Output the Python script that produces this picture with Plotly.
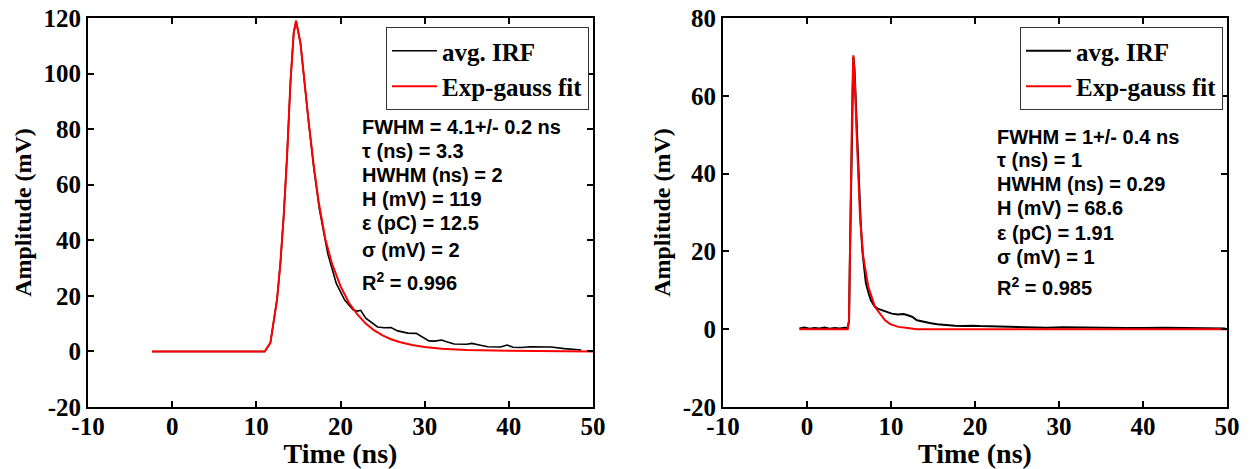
import plotly.graph_objects as go

# ---------------- left panel: 4.1 ns IRF ----------------
left_irf_t = [-2.4, 11.0, 11.67, 12.06, 12.46, 12.86, 13.25, 13.65, 14.05, 14.44, 14.72,
              15.24, 15.63, 16.23, 16.83, 17.5, 18.5, 19.5, 20.5, 21.5, 22.0, 22.4, 23.0,
              23.6, 24.4, 25.2, 26.0, 26.8, 28.0, 29.0, 29.6, 30.5, 31.2, 32.0, 32.6,
              33.5, 35.0, 35.6, 36.5, 37.5, 39.0, 39.8, 40.5, 41.5, 42.5, 45.0, 46.6, 48.6]
left_irf_v = [0.0, 0.0, 3.1, 10.3, 18.7, 31.9, 48.7, 70.3, 96.6, 114.6, 119.0,
              111.0, 99.0, 82.0, 66.0, 51.0, 35.0, 24.5, 18.5, 15.0, 14.5, 14.8, 12.0,
              10.5, 8.8, 8.5, 8.6, 7.4, 6.6, 6.5, 5.5, 3.8, 3.7, 4.1, 3.5,
              2.7, 2.6, 2.9, 2.3, 1.7, 1.6, 2.3, 1.5, 1.4, 1.7, 1.6, 1.0, 0.5]

left_fit_t = [-2.4, 11.0, 11.67, 12.06, 12.46, 12.86, 13.25, 13.65, 14.05, 14.44, 14.72,
              15.24, 15.63, 16.23, 16.83, 17.42, 18.21, 19.0, 20.0, 21.0, 22.0, 23.0,
              24.0, 25.0, 26.0, 27.0, 28.5, 30.0, 32.0, 35.0, 40.0, 50.0]
left_fit_v = [0.0, 0.0, 3.1, 10.3, 18.7, 31.9, 48.7, 70.3, 96.6, 114.6, 119.0,
              111.0, 99.0, 82.3, 66.7, 53.5, 40.3, 31.5, 23.5, 17.5, 13.3, 10.0,
              7.6, 5.8, 4.4, 3.4, 2.3, 1.6, 1.0, 0.5, 0.2, 0.0]

left_stats = ["FWHM = 4.1+/- 0.2 ns", "\u03c4 (ns) = 3.3", "HWHM (ns) = 2",
              "H (mV) = 119", "\u03b5 (pC) = 12.5", "\u03c3 (mV) = 2",
              "R<sup>2</sup> = 0.996"]

# ---------------- right panel: 1 ns IRF ----------------
right_irf_t = [-0.9, -0.3, 0.3, 0.9, 1.5, 2.1, 2.7, 3.3, 3.9, 4.5, 4.84, 5.0, 5.12, 5.24,
               5.4, 5.52, 5.65, 5.8, 5.95, 6.1, 6.25, 6.4, 6.6, 6.8, 7.0, 7.3, 7.6,
               8.0, 8.4, 8.9, 9.5, 10.1, 10.8, 11.5, 12.0, 12.5, 13.1, 13.8, 14.6,
               15.5, 16.6, 17.6, 18.6, 19.6, 20.6, 22.5, 24.6, 26.5, 28.5, 30.5,
               32.5, 34.5, 36.0, 38.0, 40.0, 42.5, 45.0, 47.5, 49.8]
right_irf_v = [0.2, 0.4, 0.1, 0.3, 0.2, 0.4, 0.1, 0.3, 0.2, 0.4, 0.3, 2.0, 20.0, 38.0,
               60.0, 70.0, 67.0, 58.0, 50.0, 42.0, 34.0, 27.0, 20.0, 15.0, 12.0, 9.5, 7.5,
               6.0, 5.3, 4.9, 4.5, 4.0, 3.8, 3.9, 3.6, 3.2, 2.3, 1.9, 1.6,
               1.3, 1.0, 0.9, 0.8, 0.9, 0.8, 0.7, 0.6, 0.5, 0.4, 0.5,
               0.4, 0.3, 0.4, 0.3, 0.3, 0.4, 0.3, 0.3, 0.2]

right_fit_t = [-0.9, 4.84, 5.0, 5.12, 5.24, 5.4, 5.52, 5.71, 5.91, 6.11, 6.31, 6.7,
               7.3, 8.1, 8.69, 9.29, 9.9, 10.87, 12.0, 13.06, 20.0, 30.0, 40.0, 50.0]
right_fit_v = [0.0, 0.0, 2.3, 22.9, 40.0, 61.4, 70.4, 63.2, 50.3, 38.3, 28.9, 18.6,
               10.9, 5.7, 4.0, 2.3, 1.3, 0.6, 0.3, 0.0, 0.0, 0.0, 0.0, 0.0]

right_stats = ["FWHM = 1+/- 0.4 ns", "\u03c4 (ns) = 1", "HWHM (ns) = 0.29",
               "H (mV) = 68.6", "\u03b5 (pC) = 1.91", "\u03c3 (mV) = 1",
               "R<sup>2</sup> = 0.985"]

# tick positions and labels (plain hyphen minus signs)
x_ticks = [-10, 0, 10, 20, 30, 40, 50]
x_labels = ["-10", "0", "10", "20", "30", "40", "50"]
y_ticks_left = [-20, 0, 20, 40, 60, 80, 100, 120]
y_labels_left = ["-20", "0", "20", "40", "60", "80", "100", "120"]
y_ticks_right = [-20, 0, 20, 40, 60, 80]
y_labels_right = ["-20", "0", "20", "40", "60", "80"]

W, H = 1249, 469
TICKF = dict(family="Liberation Serif", size=25, color="black", weight="bold")
XTITLE = dict(family="Liberation Serif", size=28, color="black", weight="bold")
YTITLE = dict(family="Liberation Serif", size=24, color="black", weight="bold")
LEGF = dict(family="Liberation Serif", size=25, color="black", weight="bold")
SANS = dict(family="Liberation Sans", size=20, color="black", weight="bold")

fig = go.Figure()

fig.add_trace(go.Scatter(x=left_irf_t, y=left_irf_v, mode="lines", name="avg. IRF",
                         line=dict(color="black", width=1.6), xaxis="x", yaxis="y",
                         legend="legend"))
fig.add_trace(go.Scatter(x=left_fit_t, y=left_fit_v, mode="lines", name="Exp-gauss fit",
                         line=dict(color="#ff0000", width=2), xaxis="x", yaxis="y",
                         legend="legend"))
fig.add_trace(go.Scatter(x=right_irf_t, y=right_irf_v, mode="lines", name="avg. IRF",
                         line=dict(color="black", width=2), xaxis="x2", yaxis="y2",
                         legend="legend2"))
fig.add_trace(go.Scatter(x=right_fit_t, y=right_fit_v, mode="lines", name="Exp-gauss fit",
                         line=dict(color="#ff0000", width=2), xaxis="x2", yaxis="y2",
                         legend="legend2"))

axis_common = dict(showline=True, linecolor="black", linewidth=2, mirror="ticks",
                   ticks="inside", ticklen=6, tickwidth=1.5, tickcolor="black",
                   showgrid=False, zeroline=False, tickfont=TICKF, automargin=False)

ydom = [1 - 407 / H, 1 - 18 / H]
fig.update_layout(
    width=W, height=H,
    margin=dict(l=0, r=0, t=0, b=0),
    paper_bgcolor="white", plot_bgcolor="white",
    xaxis=dict(domain=[88 / W, 593 / W], range=[-10, 50], tickvals=x_ticks,
               ticktext=x_labels, anchor="y", ticklabelstandoff=-4,
               title=dict(text="Time (ns)", font=XTITLE, standoff=5), **axis_common),
    yaxis=dict(domain=ydom, range=[-20, 120], tickvals=y_ticks_left,
               ticktext=y_labels_left, anchor="x", ticklabelstandoff=0,
               title=dict(text="Amplitude (mV)", font=YTITLE, standoff=5), **axis_common),
    xaxis2=dict(domain=[723 / W, 1227 / W], range=[-10, 50], tickvals=x_ticks,
                ticktext=x_labels, anchor="y2", ticklabelstandoff=-4,
                title=dict(text="Time (ns)", font=XTITLE, standoff=5), **axis_common),
    yaxis2=dict(domain=ydom, range=[-20, 80], tickvals=y_ticks_right,
                ticktext=y_labels_right, anchor="x2", ticklabelstandoff=0,
                title=dict(text="Amplitude (mV)", font=YTITLE, standoff=5), **axis_common),
    legend=dict(x=589 / W, y=1 - 27 / H, xanchor="right", yanchor="top",
                bgcolor="white", bordercolor="#333333", borderwidth=1,
                font=LEGF, itemwidth=45, tracegroupgap=0),
    legend2=dict(x=1223 / W, y=1 - 27 / H, xanchor="right", yanchor="top",
                 bgcolor="white", bordercolor="#333333", borderwidth=1,
                 font=LEGF, itemwidth=45, tracegroupgap=0),
)

# fit-parameter text blocks
left_rows = [127, 151, 175, 199, 223, 250, 281]
right_rows = [137, 160, 184, 208, 233, 257, 286]
for txt, yp in zip(left_stats, left_rows):
    fig.add_annotation(text=txt, x=360 / W, y=1 - yp / H, xref="paper", yref="paper",
                       xanchor="left", yanchor="middle", showarrow=False, font=SANS)
for txt, yp in zip(right_stats, right_rows):
    fig.add_annotation(text=txt, x=995 / W, y=1 - yp / H, xref="paper", yref="paper",
                       xanchor="left", yanchor="middle", showarrow=False, font=SANS)

fig.write_html("out.html")
